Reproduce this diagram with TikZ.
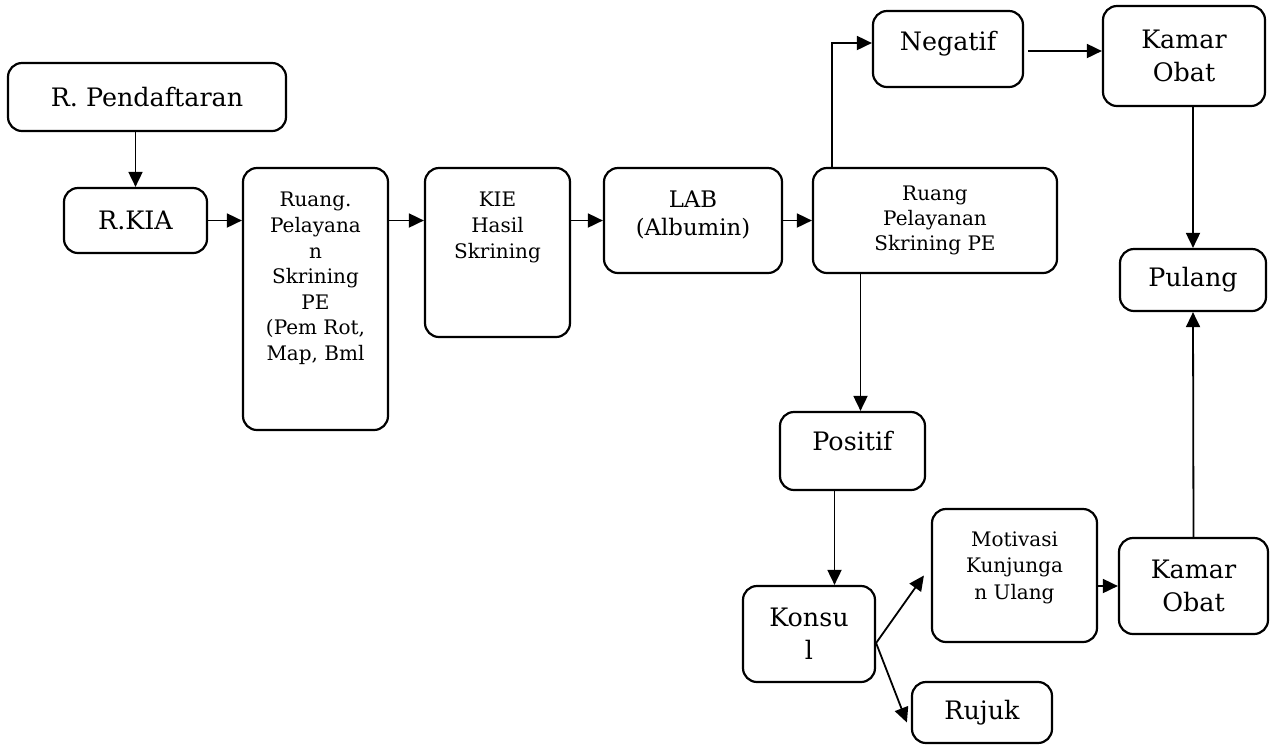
\documentclass[tikz,border=0pt]{standalone}
\usepackage{fontspec}
\setmainfont{DejaVu Serif}
\usepackage{tikz}
\usetikzlibrary{positioning}
\usetikzlibrary{shapes,arrows,calc,arrows.meta}

\newcommand{\bigtxt}{\fontsize{12.7}{16.5}\selectfont}
\newcommand{\midtxt}{\fontsize{10}{12.8}\selectfont}

\begin{document}
\begin{tikzpicture}[x=0.5pt, y=-0.5pt,
    box/.style={draw, rectangle, rounded corners=7pt, line width=1.1pt, align=center, inner sep=0pt},
    lbl/.style={inner sep=0pt, align=center},
    arr/.style={-{Triangle[length=7.5pt,width=7pt]}, line width=0.9pt}]
    \useasboundingbox (0,0) rectangle (1271,746);

    % Nodes
    \node [box, minimum width=139pt, minimum height=34pt, font=\bigtxt] (pend) at (147,97) {R. Pendaftaran};
    \node [box, minimum width=71.5pt, minimum height=32.5pt, font=\bigtxt] (kia) at (135.5,220.5) {R.KIA};

    \node [box, minimum width=72.5pt, minimum height=131pt] (rp) at (315.5,299) {};
    \node [lbl, font=\midtxt, below=12.5pt of rp.north] (rptext) {Ruang.\\ Pelayana\\ n\\ Skrining\\ PE\\ (Pem Rot,\\ Map, Bml};

    \node [box, minimum width=72.5pt, minimum height=84.5pt] (kie) at (497.5,252.5) {};
    \node [lbl, font=\midtxt, below=12.5pt of kie.north] (kietext) {KIE\\ Hasil\\ Skrining};

    \node [box, minimum width=89pt, minimum height=52.5pt] (lab) at (693,220.5) {};
    \node [lbl, font={\fontsize{11.4}{14}\selectfont}, below=12pt of lab.north] (labtext) {LAB\\ (Albumin)};

    \node [box, minimum width=122pt, minimum height=52.5pt, font={\fontsize{10}{12.5}\selectfont}] (rpe) at (935,220.5) {Ruang\\ Pelayanan\\ Skrining PE};

    \node [box, minimum width=75pt, minimum height=38pt] (neg) at (948,49) {};
    \node [lbl, font=\bigtxt, below=10.5pt of neg.north] (negtext) {Negatif};

    \node [box, minimum width=81pt, minimum height=50pt, font=\bigtxt] (kam1) at (1184,56) {Kamar\\ Obat};
    \node [box, minimum width=73pt, minimum height=31pt, font=\bigtxt] (pul) at (1193,280) {Pulang};

    \node [box, minimum width=72.5pt, minimum height=39pt] (pos) at (852.5,451) {};
    \node [lbl, font=\bigtxt, below=10pt of pos.north] (postext) {Positif};

    \node [box, minimum width=66pt, minimum height=48pt, font=\bigtxt] (kon) at (809,634) {Konsu\\ l};

    \node [box, minimum width=82.5pt, minimum height=66.5pt] (mot) at (1014.5,575.5) {};
    \node [lbl, font={\fontsize{10}{13.3}\selectfont}, below=11.5pt of mot.north] (mottext) {Motivasi\\ Kunjunga\\ n Ulang};

    \node [box, minimum width=74.5pt, minimum height=48pt, font=\bigtxt] (kam2) at (1193.5,586) {Kamar\\ Obat};
    \node [box, minimum width=70pt, minimum height=30.5pt, font=\bigtxt] (ruj) at (982,712.5) {Rujuk};

    % Arrows
    \draw [arr] (pend.south -| kia.north) -- (kia.north);
    \draw [arr] (kia.east) -- (kia.east -| rp.west);
    \draw [arr] (rp.east |- lab.west) -- (kie.west |- lab.west);
    \draw [arr] (kie.east |- lab.west) -- (lab.west);
    \draw [arr] (lab.east) -- (rpe.west);
    \draw [arr] ([xshift=10pt]rpe.north west) |- ([yshift=3pt]neg.west);
    \draw [arr] ([xshift=2pt,yshift=-1pt]neg.east) -- ([yshift=-1pt]neg.east -| kam1.west);
    \draw [arr] (kam1.south -| pul.north) -- (pul.north);
    \draw [arr] ([xshift=4pt]pos.north |- rpe.south) -- ([xshift=4pt]pos.north);
    \draw [arr] ([xshift=-9pt]pos.south) -- ([xshift=-9pt]pos.south |- kon.north);
    \draw [arr] ([yshift=-4.5pt]kon.east) -- ([xshift=-3.5pt]mot.west);
    \draw [arr] ([yshift=-4.5pt]kon.east) -- ([xshift=-2pt,yshift=-5pt]ruj.west);
    \draw [arr] (kam2.west -| mot.east) -- (kam2.west);
    \draw [arr] (kam2.north) -- (pul.south);
\end{tikzpicture}
\end{document}
